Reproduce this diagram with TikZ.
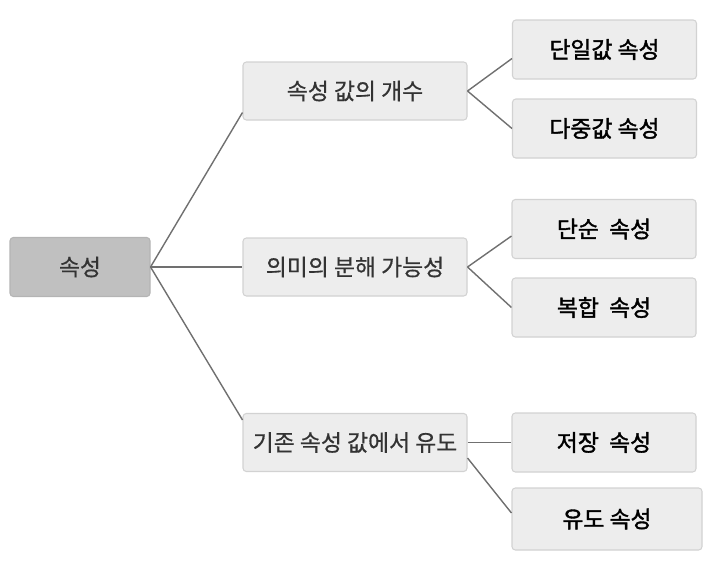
\documentclass[tikz,border=0pt]{standalone}
\usepackage{fontspec}
\setmainfont{Noto Sans CJK KR}
\newfontfamily\midfont{Noto Sans CJK KR}[FakeBold=0.6]
\newfontfamily\leaffont{Noto Sans CJK KR}[FakeBold=1.6]
\usepackage{tikz}
\usetikzlibrary{positioning, calc}
\definecolor{rootfill}{HTML}{C0C0C0}
\definecolor{rootline}{HTML}{B4B4B4}
\definecolor{boxfill}{HTML}{EDEDED}
\definecolor{boxline}{HTML}{D2D2D2}
\definecolor{wire}{HTML}{707070}
\definecolor{midtext}{HTML}{333333}
\tikzset{
    box/.style={draw=boxline, fill=boxfill, line width=0.9pt, rounded corners=1mm,
        inner sep=0pt, font=\fontsize{19.5pt}{22pt}\midfont},
    rootbox/.style={box, draw=rootline, fill=rootfill, minimum width=140*\raster,
        minimum height=59*\raster, text=midtext},
    midbox/.style={box, minimum width=224*\raster, minimum height=58*\raster, text=midtext},
    leafbox/.style={box, minimum width=184*\raster, minimum height=59*\raster, text=black,
        font=\fontsize{19.5pt}{22pt}\leaffont},
    wire/.style={draw=wire, line width=1.2pt}
}
\begin{document}
\def\raster{0.3mm}
\begin{tikzpicture}[x=\raster, y=-\raster]
    \useasboundingbox (0,0) rectangle (716,568);

    % root
    \node[rootbox] (attr) at (80,267) {속성};

    % middle level
    \node[midbox] (count) at (355,91) {속성 값의 개수};
    \node[midbox] (split) at (355,267) {의미의 분해 가능성};
    \node[midbox] (derive) at (355,442.5) {기존 속성 값에서 유도};

    % leaves
    \node[leafbox] (single) at (604.5,49.5) {단일값 속성};
    \node[leafbox] (multi) at (604.5,128.5) {다중값 속성};
    \node[leafbox] (simple) at (604,229) {단순\ \ 속성};
    \node[leafbox] (composite) at (604,307.5) {복합\ \ 속성};
    \node[leafbox] (stored) at (604,442.5) {저장\ \ 속성};
    \node[leafbox, minimum width=190*\raster, minimum height=62*\raster] (derived) at (607,519) {유도 속성};

    % connectors
    \draw[wire] (attr.east) -- ([yshift=8*\raster]count.south west);
    \draw[wire] (attr.east) -- (split.west);
    \draw[wire] (attr.east) -- ([yshift=-7*\raster]derive.north west);

    \draw[wire] (count.east) -- ([yshift=21*\raster]single.south west);
    \draw[wire] (count.east) -- (multi.west);

    \draw[wire] (split.east) -- ([yshift=23*\raster]simple.south west);
    \draw[wire] (split.east) -- (composite.west);

    \draw[wire] (derive.east) -- (stored.west);
    \draw[wire] ([yshift=14*\raster]derive.south east) -- ([yshift=6*\raster]derived.west);
\end{tikzpicture}
\end{document}
